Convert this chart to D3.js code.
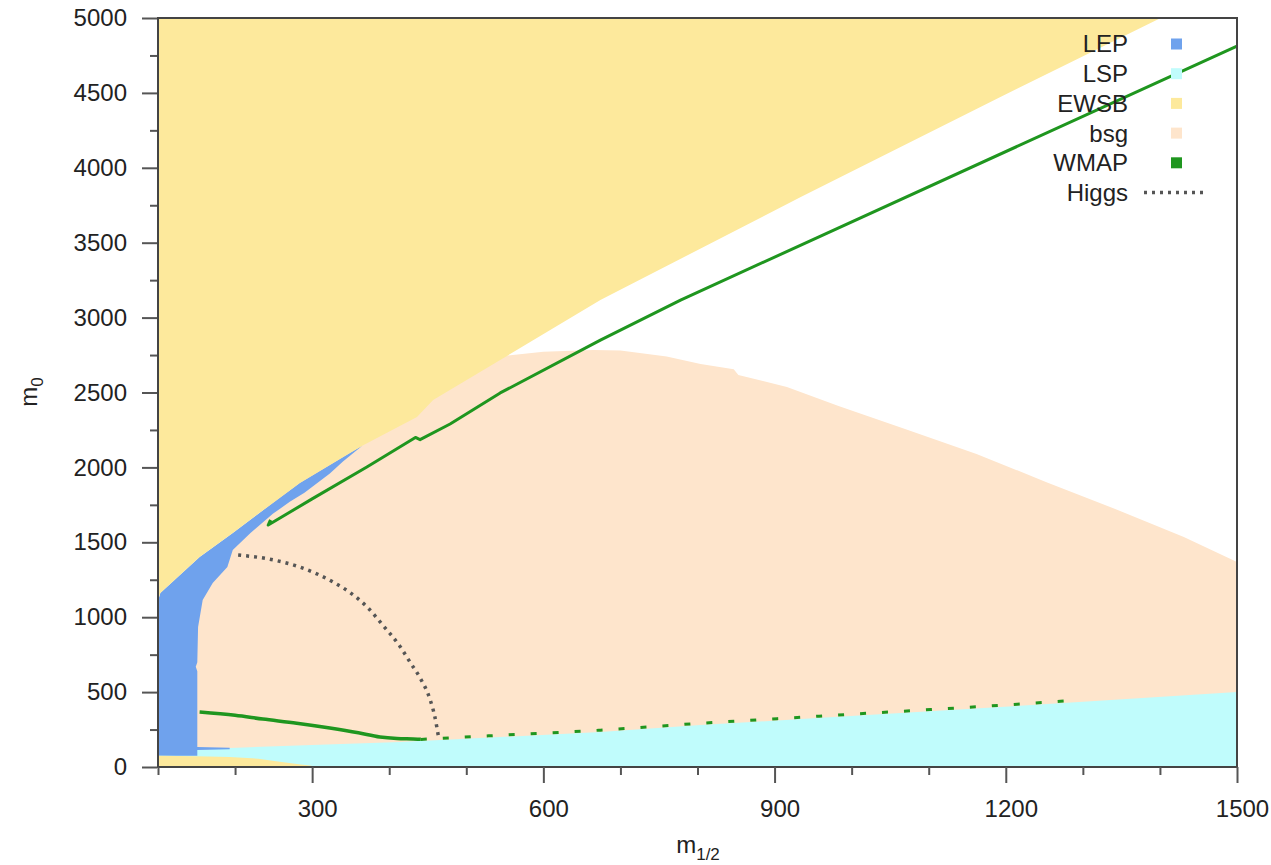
<!DOCTYPE html>
<html>
<head>
<meta charset="utf-8">
<script src="https://cdn.jsdelivr.net/npm/d3@7"></script>
<style>
  body { margin: 0; background: #fff; }
  svg text { font-family: "Liberation Sans", Arial, sans-serif; fill: #222; }
</style>
</head>
<body>
<svg id="chart" width="1271" height="865"></svg>
<script>
// axis ticks
const xMajor = [300, 600, 900, 1200, 1500];
const xMinor = [100, 200, 400, 500, 700, 800, 1000, 1100, 1300, 1400];
const yMajor = [0, 500, 1000, 1500, 2000, 2500, 3000, 3500, 4000, 4500, 5000];
const yMinor = [250, 750, 1250, 1750, 2250, 2750, 3250, 3750, 4250, 4750];

// region boundaries, [m1/2, m0]
const ewsbEdge = [[100, 1110], [103, 1162], [154, 1402], [197, 1562], [242, 1736], [284, 1896],
  [349, 2096], [365, 2145], [436, 2336], [457, 2450], [544, 2717], [674, 3117], [934, 3805],
  [1193, 4473], [1401, 5000]];
const lepEdge = [[365, 2145], [340, 2040], [323, 1960], [290, 1830], [271, 1770], [249, 1690],
  [220, 1562], [197, 1449], [190, 1335], [171, 1228], [158, 1115], [152, 935], [151, 700],
  [149, 670], [151, 640], [151, 133], [193, 128], [193, 118], [151, 113], [151, 75]];
const lspTop = [[100, 105], [151, 113], [194, 127], [300, 147], [414, 167], [544, 200], [674, 234],
  [804, 280], [934, 320], [999, 340], [1193, 400], [1500, 500]];
const ewsbLow = [[100, 75], [150, 72], [193, 67], [230, 55], [258, 35], [285, 17], [297, 10], [306, 0]];
const bsgTop = [[100, 1100], [300, 2000], [450, 2500], [540, 2740], [600, 2772], [665, 2784],
  [700, 2780], [760, 2740], [804, 2690], [847, 2655], [853, 2617], [916, 2537], [983, 2410],
  [1073, 2250], [1162, 2090], [1252, 1903], [1342, 1722], [1431, 1535], [1500, 1369]];

// lines
const wmapUpper = [[246, 1650], [243, 1615], [300, 1790], [371, 2003], [434, 2200], [440, 2185],
  [479, 2290], [544, 2497], [674, 2850], [778, 3117], [1500, 4813]];
const wmapLower = [[154, 367], [200, 345], [236, 320], [280, 292], [323, 260], [360, 228],
  [388, 200], [410, 190], [431, 187], [441, 185]];
const wmapCoann = [[441, 184], [544, 212], [674, 246], [804, 292], [934, 332], [999, 352],
  [1193, 412], [1290, 445]];
const higgs = [[204, 1415], [242, 1390], [284, 1335], [327, 1235], [349, 1165], [371, 1070],
  [392, 945], [414, 805], [427, 700], [440, 595], [453, 450], [459, 340], [464, 200]];

const legendNames = ["LEP", "LSP", "EWSB", "bsg", "WMAP", "Higgs"];
const colors = { LEP: "#6fa2ed", LSP: "#c0fcfc", EWSB: "#fde99c", bsg: "#fee5cc", WMAP: "#1f961f", Higgs: "#555" };

const svg = d3.select("#chart");
const x = d3.scaleLinear().domain([100, 1500]).range([158, 1237]);
const y = d3.scaleLinear().domain([0, 5000]).range([767, 18]);

const poly = d3.line().x(d => x(d[0])).y(d => y(d[1]));
const smooth = d3.line().x(d => x(d[0])).y(d => y(d[1])).curve(d3.curveMonotoneX);

const plot = svg.append("g");
// layers, back to front
plot.append("path").attr("d", poly([[100, 0], ...bsgTop, [1500, 0]]) + "Z").attr("fill", colors.bsg);
plot.append("path").attr("d", poly([[100, 0], ...lspTop, [1500, 0]]) + "Z").attr("fill", colors.LSP);
plot.append("path").attr("d", poly([[100, 75], ...ewsbEdge.filter(d => d[0] < 365), ...lepEdge]) + "Z").attr("fill", colors.LEP);
plot.append("path").attr("d", poly([[100, 0], ...ewsbLow]) + "Z").attr("fill", colors.EWSB);
plot.append("path").attr("d", poly([[100, 5000], ...ewsbEdge, [1401, 5000]]) + "Z").attr("fill", colors.EWSB);

plot.append("path").attr("d", poly(wmapUpper)).attr("fill", "none")
  .attr("stroke", colors.WMAP).attr("stroke-width", 3).attr("stroke-linejoin", "round");
plot.append("path").attr("d", smooth(wmapLower)).attr("fill", "none")
  .attr("stroke", colors.WMAP).attr("stroke-width", 3.5);
plot.append("path").attr("d", smooth(wmapCoann)).attr("fill", "none")
  .attr("stroke", colors.WMAP).attr("stroke-width", 3).attr("stroke-dasharray", "6,16");
plot.append("path").attr("d", smooth(higgs)).attr("fill", "none")
  .attr("stroke", colors.Higgs).attr("stroke-width", 3.5).attr("stroke-dasharray", "3,5");

// frame
svg.append("rect").attr("x", x(100)).attr("y", y(5000))
  .attr("width", x(1500) - x(100)).attr("height", y(0) - y(5000))
  .attr("fill", "none").attr("stroke", "#444").attr("stroke-width", 2);

// axes
const styleAxis = g => {
  g.select(".domain").remove();
  g.selectAll(".tick line").attr("stroke", "#555").attr("stroke-width", 2);
  g.selectAll("text").attr("font-size", 24).attr("fill", "#222");
};
svg.append("g").attr("transform", `translate(0,${y(0)})`)
  .call(d3.axisBottom(x).tickValues(xMajor).tickSize(16).tickPadding(17).tickFormat(d3.format("d")))
  .call(styleAxis).call(g => g.selectAll("text").attr("dx", 5));
svg.append("g").attr("transform", `translate(0,${y(0)})`)
  .call(d3.axisBottom(x).tickValues(xMinor).tickSize(8).tickFormat(""))
  .call(styleAxis);
svg.append("g").attr("transform", `translate(${x(100) - 1},0)`)
  .call(d3.axisLeft(y).tickValues(yMajor).tickSize(15).tickPadding(15).tickFormat(d3.format("d")))
  .call(styleAxis);
svg.append("g").attr("transform", `translate(${x(100) - 1},0)`)
  .call(d3.axisLeft(y).tickValues(yMinor).tickSize(7).tickFormat(""))
  .call(styleAxis);

// axis titles
const yt = svg.append("text").attr("transform", "translate(37,392) rotate(-90)")
  .attr("text-anchor", "middle").attr("font-size", 24);
yt.append("tspan").text("m");
yt.append("tspan").attr("font-size", 17).attr("dy", 6).text("0");

const xt = svg.append("text").attr("x", 698).attr("y", 853)
  .attr("text-anchor", "middle").attr("font-size", 24);
xt.append("tspan").text("m");
xt.append("tspan").attr("font-size", 17).attr("dy", 7).text("1/2");

// legend
const leg = svg.append("g");
legendNames.forEach((name, i) => {
  const ly = 44 + i * 29.7;
  leg.append("text").attr("x", 1128).attr("y", ly).attr("dy", "0.35em")
    .attr("text-anchor", "end").attr("font-size", 24).text(name);
  if (name === "Higgs") {
    leg.append("line").attr("x1", 1144).attr("x2", 1208).attr("y1", ly).attr("y2", ly)
      .attr("stroke", colors.Higgs).attr("stroke-width", 3.5).attr("stroke-dasharray", "3,5");
  } else {
    leg.append("rect").attr("x", 1171).attr("y", ly - 5.5).attr("width", 11).attr("height", 11)
      .attr("fill", colors[name]);
  }
});
</script>
</body>
</html>
